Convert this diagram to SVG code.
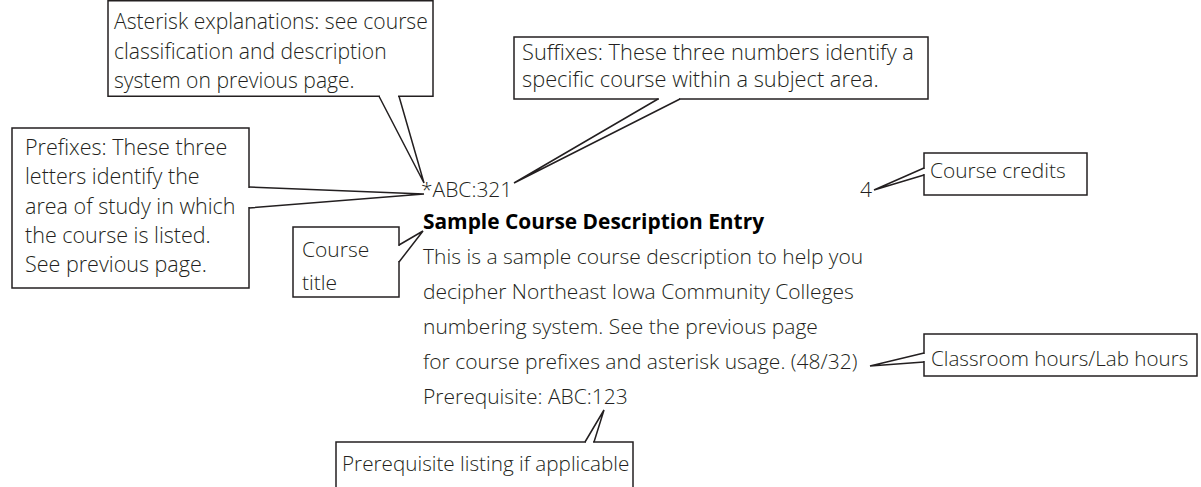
<svg xmlns="http://www.w3.org/2000/svg" width="1201" height="487" viewBox="0 0 1201 487">
<style>
.box{fill:#fff;stroke:#231f20;stroke-width:1.5}
.t{font-family:"Open Sans","Noto Sans",sans-serif;font-weight:300;font-size:21px;fill:#231f20}
.l{font-family:"Open Sans","Noto Sans",sans-serif;font-weight:300;font-size:21px;fill:#231f20}
.b{font-family:"Open Sans","Noto Sans",sans-serif;font-weight:700;font-size:20.9px;fill:#000}
.gap{stroke:#fff;stroke-width:3;fill:none}
.wedge{fill:none;stroke:#231f20;stroke-width:1.5;stroke-linejoin:miter}
</style>
<rect width="1201" height="487" fill="#fff"/>
<g id="asterisk-note"><rect class="box" x="108" y="0.75" width="325" height="95.5"/>
<text class="l" style="font-size:21.1px"><tspan x="114" y="29">Asterisk explanations: see course</tspan><tspan x="114" y="59">classification and description</tspan><tspan x="114" y="88">system on previous page.</tspan></text></g>
<g id="suffix-note"><rect class="box" x="514" y="37" width="414" height="62"/>
<text class="l" style="font-size:21.8px"><tspan x="522" y="60">Suffixes: These three numbers identify a</tspan><tspan x="522" y="87">specific course within a subject area.</tspan></text></g>
<g id="prefix-note"><rect class="box" x="12" y="128" width="237" height="160"/>
<text class="l" style="font-size:21.5px"><tspan x="25" y="155">Prefixes: These three</tspan><tspan x="25" y="184">letters identify the</tspan><tspan x="25" y="214">area of study in which</tspan><tspan x="25" y="243">the course is listed.</tspan><tspan x="25" y="272">See previous page.</tspan></text></g>
<g id="title-note"><rect class="box" x="293" y="227" width="106" height="70"/>
<text class="l"><tspan x="302" y="257">Course</tspan><tspan x="302" y="290">title</tspan></text></g>
<g id="credits-note"><rect class="box" x="924" y="153" width="163" height="42"/>
<text class="l" x="930" y="178" style="font-size:20.9px">Course credits</text></g>
<g id="hours-note"><rect class="box" x="924" y="334" width="273" height="42"/>
<text class="l" x="931" y="366" style="font-size:20.6px">Classroom hours/Lab hours</text></g>
<g id="prereq-note"><rect class="box" x="336" y="442" width="297" height="50"/>
<text class="l" x="342" y="471" style="font-size:20.7px">Prerequisite listing if applicable</text></g>
<g id="entry">
<text class="t" x="421" y="197">*ABC:321</text>
<text class="t" x="860" y="197">4</text>
<text class="b" x="423" y="229">Sample Course Description Entry</text>
<text class="t"><tspan x="423" y="264">This is a sample course description to help you</tspan><tspan x="423" y="299">decipher Northeast Iowa Community Colleges</tspan><tspan x="423" y="334">numbering system. See the previous page</tspan><tspan x="423" y="369">for course prefixes and asterisk usage. (48/32)</tspan><tspan x="423" y="404">Prerequisite: ABC:123</tspan></text>
</g>
<g id="connectors">
<line class="gap" x1="380" y1="96.25" x2="398" y2="96.25"/><polyline class="wedge" points="379,96.25 424,183 399,96.25"/>
<line class="gap" x1="659" y1="99" x2="679" y2="99"/><polyline class="wedge" points="658,99 514,183 680,99"/>
<line class="gap" x1="249" y1="188" x2="249" y2="207"/><polyline class="wedge" points="249,187 424,194 249,208"/>
<line class="gap" x1="399" y1="246" x2="399" y2="261"/><polyline class="wedge" points="399,245 423,231 399,262"/>
<line class="gap" x1="924" y1="169" x2="924" y2="174"/><polyline class="wedge" points="924,168 874,190 924,175"/>
<line class="gap" x1="924" y1="354" x2="924" y2="361"/><polyline class="wedge" points="924,353 870,366 924,362"/>
<line class="gap" x1="586" y1="442" x2="593" y2="442"/><polyline class="wedge" points="585,442 604,410 594,442"/>
</g>
</svg>
